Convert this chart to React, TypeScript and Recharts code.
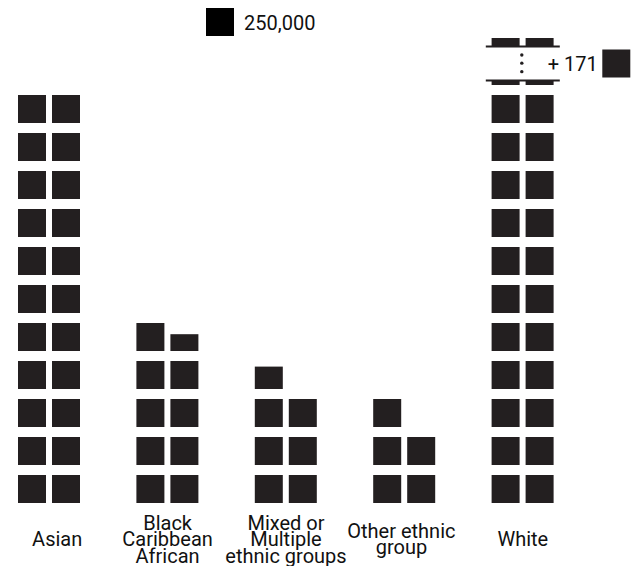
import React from "react";
import { BarChart, Bar, XAxis, YAxis, ReferenceArea } from "recharts";

// population by ethnic group, one square = 250,000 people
const categories = [
  "Asian",
  "Black Caribbean African",
  "Mixed or Multiple ethnic groups",
  "Other ethnic group",
  "White",
];
const tickLines = [
  ["Asian"],
  ["Black", "Caribbean", "African"],
  ["Mixed or", "Multiple", "ethnic groups"],
  ["Other ethnic", "group"],
  ["White"],
];
const population = [5500000, 2400000, 1700000, 1250000, 48700000];
const unitValue = 250000;
const unitLabel = "250,000";
const hiddenWhiteUnits = 171;

// two columns per category, filled row by row from the bottom
const data = categories.map((name, i) => {
  const units = population[i] / unitValue;
  const rows = Math.floor(units / 2);
  const rest = units - rows * 2;
  return {
    name,
    left: rows + Math.min(rest, 1),
    right: rows + Math.max(rest - 1, 0),
  };
});

const SQUARE = "#231f20";
const FONT = "Roboto, 'Noto Sans', sans-serif";
const Y_MAX = 465 / 38; // visible rows (top row cut by the break)
const labelShift = [8, 0, 0, -3, 0];

const WaffleColumn = (props: any) => {
  const { x, y, width, height, units, background } = props;
  if (!units || !height) return null;
  const bottom = y + height;
  const pitch = height / units;
  const top = background ? background.y : -Infinity;
  const full = Math.floor(units + 1e-6);
  const frac = units - full;
  const cells: any[] = [];
  for (let i = 0; i < full; i++) {
    const yb = bottom - i * pitch;
    if (yb <= top) break;
    const yt = Math.max(yb - width, top);
    cells.push(<rect key={i} x={x} y={yt} width={width} height={yb - yt} fill={SQUARE} />);
  }
  if (frac > 0.01) {
    const yb = bottom - full * pitch;
    if (yb > top) {
      const yt = Math.max(yb - width * frac, top);
      cells.push(<rect key="p" x={x} y={yt} width={width} height={yb - yt} fill={SQUARE} />);
    }
  }
  return <g>{cells}</g>;
};

const BreakMark = (props: any) => {
  const { x, y, width, height } = props;
  const cx = x + width / 2;
  const mid = y + height / 2;
  return (
    <g>
      <rect x={cx - 37} y={y} width={74} height={height} fill="#fff" />
      <line x1={cx - 37} x2={cx + 37} y1={y} y2={y} stroke={SQUARE} strokeWidth={2} />
      <line x1={cx - 37} x2={cx + 37} y1={y + height} y2={y + height} stroke={SQUARE} strokeWidth={2} />
      {[0.25, 0.49, 0.74].map((f) => (
        <circle key={f} cx={cx - 1} cy={y + height * f} r={1.7} fill={SQUARE} />
      ))}
      <text x={cx + 25} y={mid + 7.5} fontSize={20} fontFamily={FONT} fill="#111">
        + {hiddenWhiteUnits}
      </text>
      <rect x={cx + 79.5} y={mid - 14} width={28} height={28} fill={SQUARE} />
    </g>
  );
};

const CategoryTick = (props: any) => {
  const { x, y, payload } = props;
  const idx = categories.indexOf(payload.value);
  const lines = tickLines[idx] || [payload.value];
  const first = 43 - ((lines.length - 1) * 16.5) / 2;
  const tx = x + (labelShift[idx] || 0);
  return (
    <text x={tx} y={y + first} textAnchor="middle" fontSize={20} fontFamily={FONT} fill="#111">
      {lines.map((l, i) => (
        <tspan key={i} x={tx} dy={i === 0 ? 0 : 16.5}>
          {l}
        </tspan>
      ))}
    </text>
  );
};

export default function App() {
  return (
    <div style={{ position: "absolute", left: 0, top: 0, width: 634, height: 566, overflow: "hidden" }}>
      <svg width={140} height={40} style={{ position: "absolute", left: 206, top: 8 }}>
        <rect x={0} y={0} width={28} height={28} fill="#000" />
        <text x={38} y={21.5} fontSize={20} fontFamily={FONT} fill="#111">
          {unitLabel}
        </text>
      </svg>
      <div style={{ position: "absolute", left: -10, top: 0 }}>
        <BarChart
          width={644}
          height={566}
          data={data}
          margin={{ top: 38, right: 52, left: 0, bottom: 0 }}
          barSize={28}
          barGap={6}
        >
          <XAxis
            dataKey="name"
            axisLine={false}
            tickLine={false}
            tickSize={0}
            tickMargin={0}
            height={63}
            interval={0}
            tick={<CategoryTick />}
          />
          <YAxis hide domain={[0, Y_MAX]} allowDataOverflow />
          <Bar
            dataKey="left"
            isAnimationActive={false}
            shape={(p: any) => <WaffleColumn {...p} units={p.payload.left} />}
          />
          <Bar
            dataKey="right"
            isAnimationActive={false}
            shape={(p: any) => <WaffleColumn {...p} units={p.payload.right} />}
          />
          <ReferenceArea
            x1="White"
            x2="White"
            y1={(503 - 80.5) / 38}
            y2={(503 - 46.5) / 38}
            zIndex={1500}
            shape={<BreakMark />}
          />
        </BarChart>
      </div>
    </div>
  );
}
